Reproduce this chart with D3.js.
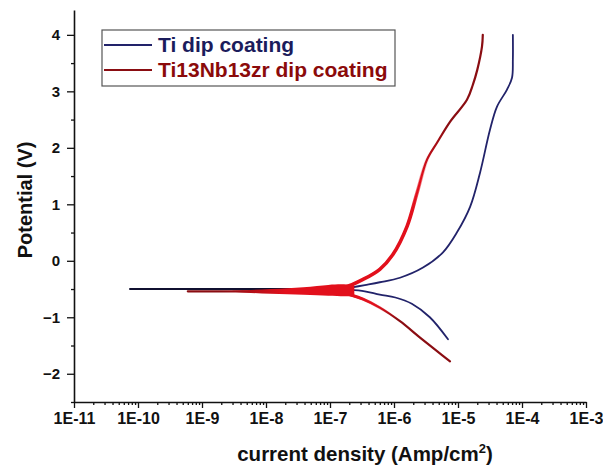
<!DOCTYPE html>
<html>
<head>
<meta charset="utf-8">
<script src="https://cdn.jsdelivr.net/npm/d3@7"></script>
<style>
  body { margin: 0; background: #fff; }
  svg text { font-family: "Liberation Sans", Arial, sans-serif; font-weight: bold; }
</style>
</head>
<body>
<svg id="chart" width="603" height="468"></svg>
<script>
const seriesNames = ["Ti dip coating", "Ti13Nb13zr dip coating"];
const xTicks = [1e-11, 1e-10, 1e-9, 1e-8, 1e-7, 1e-6, 1e-5, 1e-4, 1e-3];
const xTickLabels = ["1E-11", "1E-10", "1E-9", "1E-8", "1E-7", "1E-6", "1E-5", "1E-4", "1E-3"];
const yTicks = [-2, -1, 0, 1, 2, 3, 4];

// [current density (A/cm2), potential (V)]
const tiCathodic = [
  [6.98e-6, -1.39], [3.63e-6, -1.0], [1.9e-6, -0.76], [1.05e-6, -0.65],
  [6.0e-7, -0.6], [3.5e-7, -0.54], [2.0e-7, -0.51]
];
const tiZero = [[2.0e-7, -0.5], [3.4e-8, -0.5], [9.3e-10, -0.5], [7.5e-11, -0.5]];
const tiAnodic = [
  [2.0e-7, -0.48], [3.5e-7, -0.43], [6.0e-7, -0.38], [1.24e-6, -0.3],
  [2.84e-6, -0.12], [5.83e-6, 0.15], [9.6e-6, 0.5], [1.55e-5, 0.96],
  [2.21e-5, 1.56], [3.16e-5, 2.32], [4.07e-5, 2.73], [5.83e-5, 3.03],
  [6.98e-5, 3.24], [7.2e-5, 3.56], [7.2e-5, 4.0]
];

const nbCathodic = [
  [7.5e-6, -1.78], [4.7e-6, -1.6], [2.55e-6, -1.36], [1.24e-6, -1.07],
  [6.0e-7, -0.83], [3.28e-7, -0.68], [1.71e-7, -0.58], [1.0e-7, -0.56]
];
const nbZero = [[1.0e-7, -0.55], [2.37e-8, -0.55], [3.9e-9, -0.54], [6.0e-10, -0.54]];
const nbAnodic = [
  [1.0e-7, -0.51], [1.71e-7, -0.47], [3.28e-7, -0.33], [6.0e-7, -0.15],
  [9.6e-7, 0.11], [1.6e-6, 0.61], [2.3e-6, 1.21], [3.28e-6, 1.79],
  [4.7e-6, 2.09], [7.5e-6, 2.46], [1.38e-5, 2.85], [1.71e-5, 3.12],
  [2.0e-5, 3.38], [2.37e-5, 3.79], [2.44e-5, 4.0]
];
// noisy scatter around the corrosion potential: [current, low V, high V]
const nbNoise = [
  [3.0e-9, -0.53, -0.55], [1.2e-8, -0.5, -0.59], [4.0e-8, -0.47, -0.6],
  [1.0e-7, -0.42, -0.62], [1.7e-7, -0.41, -0.63], [2.4e-7, -0.44, -0.62]
];

const svg = d3.select("#chart");

const x = d3.scaleLog().domain([1e-11, 1e-3]).range([74, 586]);
const y = d3.scaleLinear().domain([-2.5, 4.44]).range([402, 10]);

const blue = "#22236a";
const darkRed = "#8a0d12";
const brightRed = "#e2101c";

// gradients for the red curve
const defs = svg.append("defs");
const off = (v) => (y(v) - y(4)) / (y(-2) - y(4));
const vGrad = defs.append("linearGradient")
  .attr("id", "redV").attr("gradientUnits", "userSpaceOnUse")
  .attr("x1", 0).attr("x2", 0).attr("y1", y(4)).attr("y2", y(-2));
[[2.4, darkRed], [1.4, brightRed], [-0.75, brightRed], [-1.05, darkRed]].forEach(([v, c]) => {
  vGrad.append("stop").attr("offset", off(v)).attr("stop-color", c);
});
const fade = defs.append("linearGradient")
  .attr("id", "redFade").attr("gradientUnits", "userSpaceOnUse")
  .attr("x1", 0).attr("x2", 0).attr("y1", y(4)).attr("y2", y(-2));
[[1.9, 0], [0.9, 1], [-0.65, 1], [-0.95, 0]].forEach(([v, o]) => {
  fade.append("stop").attr("offset", off(v)).attr("stop-color", brightRed).attr("stop-opacity", o);
});
const hGrad = defs.append("linearGradient")
  .attr("id", "redH").attr("gradientUnits", "userSpaceOnUse")
  .attr("x1", x(2e-9)).attr("x2", x(2e-8)).attr("y1", 0).attr("y2", 0);
hGrad.append("stop").attr("offset", 0).attr("stop-color", darkRed);
hGrad.append("stop").attr("offset", 1).attr("stop-color", brightRed);

// axes
const xAxis = svg.append("g").attr("transform", `translate(0,${y(-2.5)})`)
  .call(d3.axisBottom(x).tickValues(xTicks).tickSize(6).tickSizeOuter(0).tickPadding(5)
    .tickFormat((d, i) => xTickLabels[i]));
const xMinor = [];
xTicks.slice(0, -1).forEach(t => { for (let k = 2; k <= 9; k++) xMinor.push(t * k); });
svg.append("g").attr("transform", `translate(0,${y(-2.5)})`)
  .call(d3.axisBottom(x).tickValues(xMinor).tickSize(3).tickFormat(""))
  .select(".domain").remove();

const yAxis = svg.append("g").attr("transform", `translate(${x(1e-11)},0)`)
  .call(d3.axisLeft(y).tickValues(yTicks).tickSize(7).tickSizeOuter(0).tickPadding(7)
    .tickFormat(d3.format("d")));
svg.append("g").attr("transform", `translate(${x(1e-11)},0)`)
  .call(d3.axisLeft(y).tickValues([-2.5, -1.5, -0.5, 0.5, 1.5, 2.5, 3.5]).tickSize(3).tickFormat(""))
  .select(".domain").remove();

svg.selectAll(".domain").attr("stroke", "#111").attr("stroke-width", 1.6);
svg.selectAll(".tick line").attr("stroke", "#111").attr("stroke-width", 1.3);
xAxis.selectAll("text").attr("font-size", 16).attr("fill", "#111");
yAxis.selectAll("text").attr("font-size", 15).attr("fill", "#111");

// axis titles
const xt = svg.append("text").attr("x", 365).attr("y", 461)
  .attr("text-anchor", "middle").attr("font-size", 20.5).attr("fill", "#111");
xt.append("tspan").text("current density (Amp/cm");
xt.append("tspan").attr("font-size", 13).attr("dy", -8).text("2");
xt.append("tspan").attr("dy", 8).text(")");

svg.append("text").attr("transform", "translate(32,200) rotate(-90)")
  .attr("text-anchor", "middle").attr("font-size", 20).attr("fill", "#111")
  .text("Potential (V)");

// curves
const line = d3.line().x(d => x(d[0])).y(d => y(d[1])).curve(d3.curveCatmullRom.alpha(0.5));
const straight = d3.line().x(d => x(d[0])).y(d => y(d[1]));

const plot = svg.append("g").attr("fill", "none").attr("stroke-linecap", "round");

plot.append("path").attr("d", line(tiCathodic)).attr("stroke", blue).attr("stroke-width", 1.8);
plot.append("path").attr("d", straight(tiZero)).attr("stroke", "#101030").attr("stroke-width", 2);
plot.append("path").attr("d", line(tiAnodic)).attr("stroke", blue).attr("stroke-width", 1.8);

plot.append("path").attr("d", line(nbCathodic)).attr("stroke", "url(#redV)").attr("stroke-width", 2.2);
plot.append("path").attr("d", line(nbAnodic)).attr("stroke", "url(#redV)").attr("stroke-width", 2.2);
plot.append("path").attr("d", line(nbAnodic)).attr("stroke", "url(#redFade)").attr("stroke-width", 3.6);
plot.append("path").attr("d", line(nbCathodic)).attr("stroke", "url(#redFade)").attr("stroke-width", 3);
plot.append("path").attr("d", straight(nbZero)).attr("stroke", "url(#redH)").attr("stroke-width", 2.2);
plot.append("path")
  .attr("d", d3.area().x(d => x(d[0])).y0(d => y(d[1])).y1(d => y(d[2])).curve(d3.curveBasis)(nbNoise))
  .attr("fill", "url(#redH)").attr("stroke", "none");

// legend
const legend = svg.append("g");
legend.append("rect").attr("x", 102).attr("y", 30).attr("width", 293).attr("height", 56)
  .attr("fill", "#fff").attr("stroke", "#555").attr("stroke-width", 1.2);
const legendColors = [blue, darkRed];
const textColors = ["#1b1c5c", "#8b0a0a"];
seriesNames.forEach((name, i) => {
  const ly = 45 + i * 25;
  legend.append("line").attr("x1", 104).attr("x2", 152).attr("y1", ly).attr("y2", ly)
    .attr("stroke", legendColors[i]).attr("stroke-width", 2);
  legend.append("text").attr("x", 158).attr("y", ly + 7).attr("font-size", 21)
    .attr("fill", textColors[i]).text(name);
});
</script>
</body>
</html>
